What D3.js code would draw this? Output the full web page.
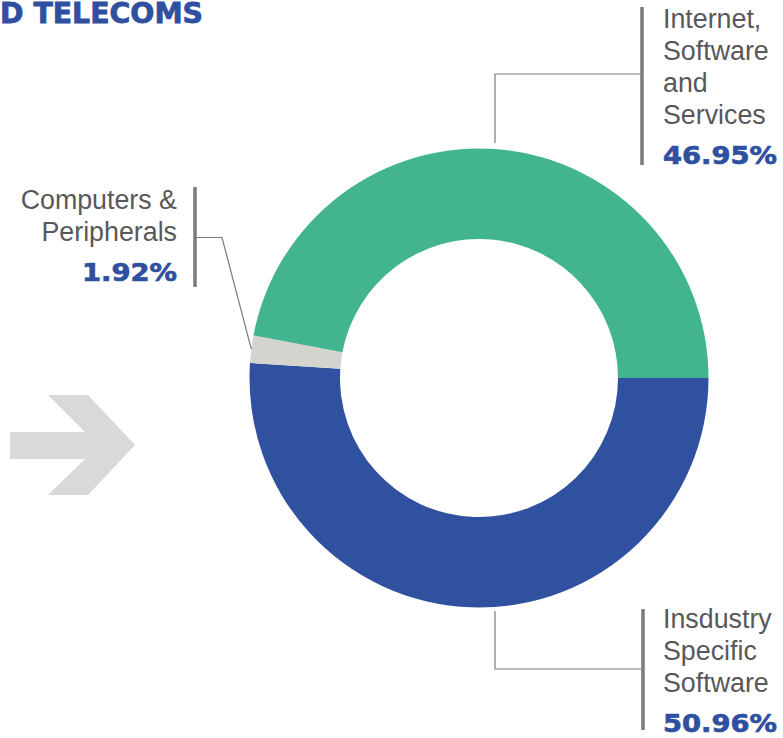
<!DOCTYPE html>
<html>
<head>
<meta charset="utf-8">
<script src="https://cdn.jsdelivr.net/npm/d3@7/dist/d3.min.js"></script>
<style>
  html, body { margin: 0; padding: 0; background: #fff; }
  svg { display: block; }
</style>
</head>
<body>
<svg id="chart"></svg>
<script>
// data
var categories = ["Insdustry Specific Software", "Computers & Peripherals", "Internet, Software and Services"];
var values = [50.96, 1.92, 46.95];
var colors = ["#30519f", "#d4d3ce", "#42b48f"];
var labelLines = [["Insdustry", "Specific", "Software"], ["Computers &", "Peripherals"], ["Internet,", "Software", "and", "Services"]];
var pctLabels = ["50.96%", "1.92%", "46.95%"];
var titleText = "D TELECOMS";

var W = 783, H = 738;
var cx = 479, cy = 378, rOut = 229.5, rIn = 139;

var svg = d3.select("#chart").attr("width", W).attr("height", H);

// title (starts right at the left edge, as in the reference)
svg.append("text")
  .attr("x", 0).attr("y", 22.5)
  .attr("textLength", 203).attr("lengthAdjust", "spacingAndGlyphs")
  .attr("font-family", "DejaVu Sans").attr("font-weight", "bold")
  .attr("font-size", 27.5).attr("fill", "#2f50a0")
  .attr("stroke", "#2f50a0").attr("stroke-width", 0.8)
  .text(titleText);

// big grey arrow
svg.append("path")
  .attr("d", "M10,432 L85,432 L48,395 L88,395 L135,445 L88,495 L48,495 L85,459 L10,459 Z")
  .attr("fill", "#d9d9d9");

// donut
var pie = d3.pie().sort(null).value(function(d){ return d; })
  .startAngle(Math.PI / 2).endAngle(Math.PI / 2 + 2 * Math.PI);
var arcs = pie(values);
var arc = d3.arc().innerRadius(rIn).outerRadius(rOut);

var g = svg.append("g").attr("transform", "translate(" + cx + "," + cy + ")");
g.selectAll("path.slice")
  .data(arcs).enter()
  .append("path").classed("slice", 1)
  .attr("d", arc)
  .attr("fill", function(d, i){ return colors[i]; });

var lineCol = "#7a7a7a", textCol = "#58585a", pctCol = "#2f50a0";

function block(x, anchor, firstBase, lines, pct, barX, barTop, barBot) {
  svg.append("line")
    .attr("x1", barX).attr("x2", barX).attr("y1", barTop).attr("y2", barBot)
    .attr("stroke", lineCol).attr("stroke-width", 3.5);
  lines.forEach(function(t, k){
    svg.append("text")
      .attr("x", x).attr("y", firstBase + k * 32)
      .attr("text-anchor", anchor)
      .attr("font-family", "Liberation Sans, Arial, sans-serif")
      .attr("font-size", 26.8).attr("fill", textCol)
      .text(t);
  });
  var pw = pct.length * 19;
  svg.append("text")
    .attr("x", anchor == "end" ? x - pw : x)
    .attr("y", firstBase + (lines.length - 1) * 32 + 39.5)
    .attr("textLength", pw).attr("lengthAdjust", "spacingAndGlyphs")
    .attr("font-family", "DejaVu Sans").attr("font-weight", "bold")
    .attr("font-size", 25).attr("fill", pctCol)
    .attr("stroke", pctCol).attr("stroke-width", 0.7)
    .text(pct);
}

// Internet, Software and Services (top right)
block(663, "start", 28, labelLines[2], pctLabels[2], 642, 7, 165);
svg.append("polyline")
  .attr("points", [[495, 143], [495, 74], [642, 74]].join(" "))
  .attr("fill", "none").attr("stroke", lineCol).attr("stroke-width", 1.2);

// Insdustry Specific Software (bottom right)
block(663, "start", 628, labelLines[0], pctLabels[0], 643, 609, 730);
svg.append("polyline")
  .attr("points", [[495, 611], [495, 669], [643, 669]].join(" "))
  .attr("fill", "none").attr("stroke", lineCol).attr("stroke-width", 1.2);

// Computers & Peripherals (left)
block(177, "end", 209, labelLines[1], pctLabels[1], 195, 187, 287);
var a = arcs[1], mid = (a.startAngle + a.endAngle) / 2;
var px = cx + rOut * Math.sin(mid), py = cy - rOut * Math.cos(mid);
svg.append("polyline")
  .attr("points", [[195, 237.5], [222, 237.5], [px, py]].join(" "))
  .attr("fill", "none").attr("stroke", lineCol).attr("stroke-width", 1.2);
</script>
</body>
</html>
